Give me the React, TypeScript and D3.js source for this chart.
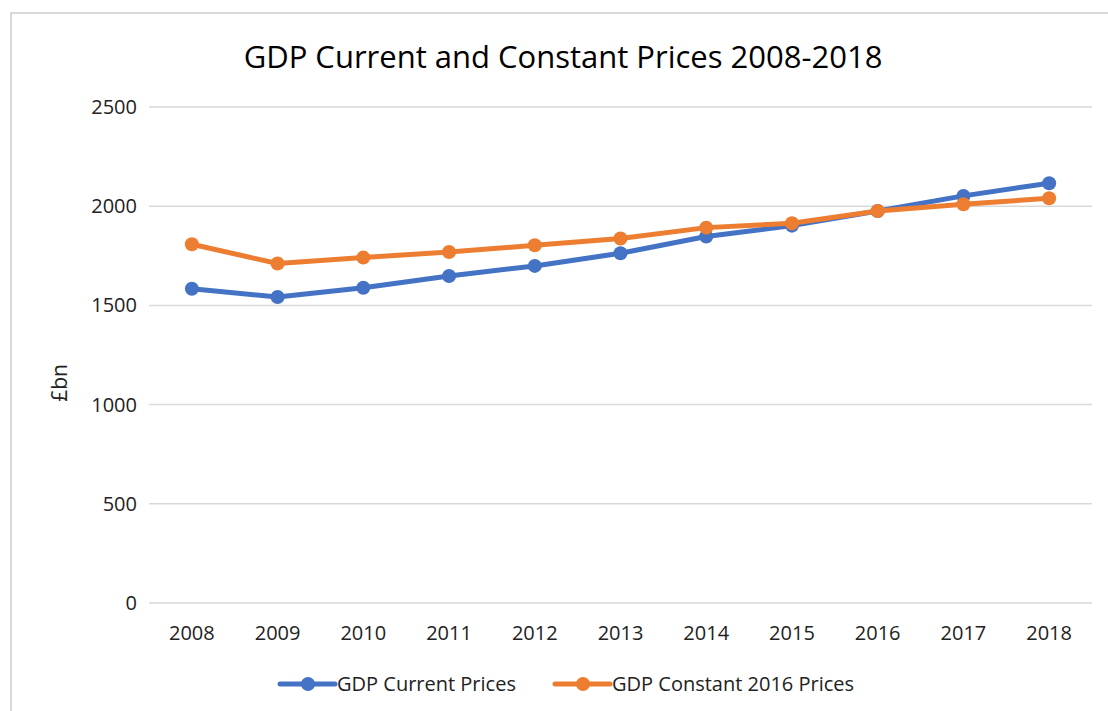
import React from "react";
import * as d3 from "d3";

const years = ["2008","2009","2010","2011","2012","2013","2014","2015","2016","2017","2018"];
const currentPrices = [1584, 1542, 1589, 1648, 1699, 1763, 1847, 1902, 1976, 2052, 2116];
const constantPrices = [1808, 1711, 1741, 1769, 1803, 1837, 1892, 1914, 1976, 2010, 2040];
const yTicks = [0, 500, 1000, 1500, 2000, 2500];
const seriesNames = ["GDP Current Prices", "GDP Constant 2016 Prices"];
const seriesColors = ["#4472C4", "#ED7D31"];

const W = 1108, H = 711;
const FONT = "'Open Sans', sans-serif";

export default function App() {
  const x = d3.scaleBand<string>().domain(years).range([149, 1092]);
  const y = d3.scaleLinear().domain([0, 2500]).range([603, 107]);
  const cx = (d: string) => (x(d) as number) + x.bandwidth() / 2;
  const line = d3.line<number>().x((_, i) => cx(years[i])).y((v) => y(v));
  const series = [currentPrices, constantPrices];
  const legendX = [280, 555];

  return (
    <svg width={W} height={H} style={{ position: "absolute", left: 0, top: 0, background: "#fff" }} fontFamily={FONT}>
      <rect x={0} y={0} width={W} height={H} fill="#fff" />
      <path d={`M11,${H} L11,13 L${W},13`} fill="none" stroke="#d9d9d9" strokeWidth={2} />
      <text x={563} y={68} textAnchor="middle" fontSize={31} fill="#000">GDP Current and Constant Prices 2008-2018</text>
      {yTicks.map((t) => (
        <g key={t}>
          <line x1={149} x2={1092} y1={y(t)} y2={y(t)} stroke="#d9d9d9" strokeWidth={1.5} />
          <text x={137} y={y(t)} dy="0.35em" textAnchor="end" fontSize={20} fill="#222">{t}</text>
        </g>
      ))}
      {years.map((yr) => (
        <text key={yr} x={cx(yr)} y={633} dy="0.35em" textAnchor="middle" fontSize={20} fill="#222">{yr}</text>
      ))}
      <text transform="translate(60,383) rotate(-90)" textAnchor="middle" dy="0.35em" fontSize={21} fill="#222">£bn</text>
      {series.map((s, si) => (
        <g key={si}>
          <path d={line(s) || ""} fill="none" stroke={seriesColors[si]} strokeWidth={5} strokeLinejoin="round" />
          {s.map((v, i) => (
            <circle key={i} cx={cx(years[i])} cy={y(v)} r={7} fill={seriesColors[si]} />
          ))}
        </g>
      ))}
      {seriesNames.map((n, i) => (
        <g key={n}>
          <line x1={legendX[i]} x2={legendX[i] + 55} y1={684} y2={684} stroke={seriesColors[i]} strokeWidth={5} strokeLinecap="round" />
          <circle cx={legendX[i] + 28} cy={684} r={7} fill={seriesColors[i]} />
          <text x={legendX[i] + 57} y={684} dy="0.35em" fontSize={20} fill="#222">{n}</text>
        </g>
      ))}
    </svg>
  );
}
